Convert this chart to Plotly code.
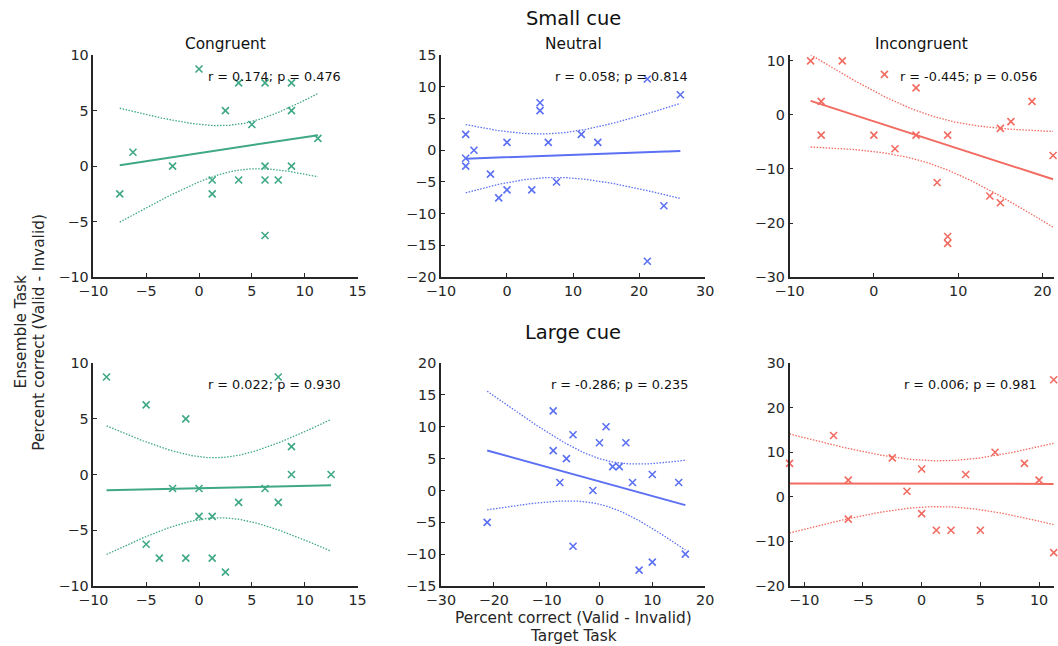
import numpy as np
import plotly.graph_objects as go

W, H = 1066, 654
# the page shows the figure with an 8px body margin, rescaled and padded;
# these map target-picture pixels to figure pixels (measured empirically)
S, PADX, OFF = 646 / 662, 5.0, 8
XFIX_REF, XFIX = 91, 1.00856

# ---------------- data (Target task x, Ensemble task y) ----------------
small_cong_x = [-7.5, -6.25, -2.5, 0, 1.25, 1.25, 2.5, 3.75, 3.75, 5, 6.25, 6.25, 6.25, 6.25, 7.5, 8.75, 8.75, 8.75, 11.25]
small_cong_y = [-2.5, 1.25, 0, 8.75, -1.25, -2.5, 5, 7.5, -1.25, 3.75, 7.5, 0, -1.25, -6.25, -1.25, 7.5, 5, 0, 2.5]

small_neut_x = [-6.25, -6.25, -6.25, -5, -2.5, -1.25, 0, 0, 3.75, 5, 5, 6.25, 7.5, 11.25, 13.75, 21.25, 21.25, 23.75, 26.25]
small_neut_y = [2.5, -1.25, -2.5, 0, -3.75, -7.5, 1.25, -6.25, -6.25, 7.5, 6.25, 1.25, -5, 2.5, 1.25, 11.25, -17.5, -8.75, 8.75]

small_inc_x = [-7.5, -6.25, -6.25, -3.75, 0, 1.25, 2.5, 5, 5, 7.5, 8.75, 8.75, 8.75, 13.75, 15, 15, 16.25, 18.75, 21.25]
small_inc_y = [10, 2.5, -3.75, 10, -3.75, 7.5, -6.25, 5, -3.75, -12.5, -3.75, -22.5, -23.75, -15, -2.5, -16.25, -1.25, 2.5, -7.5]

large_cong_x = [-8.75, -5, -5, -3.75, -2.5, -1.25, -1.25, 0, 0, 1.25, 1.25, 2.5, 3.75, 6.25, 7.5, 7.5, 8.75, 8.75, 12.5]
large_cong_y = [8.75, 6.25, -6.25, -7.5, -1.25, 5, -7.5, -1.25, -3.75, -3.75, -7.5, -8.75, -2.5, -1.25, 8.75, -2.5, 2.5, 0, 0]

large_neut_x = [-21.25, -8.75, -8.75, -7.5, -6.25, -5, -5, -1.25, 0, 1.25, 2.5, 3.75, 5, 6.25, 7.5, 10, 10, 15, 16.25]
large_neut_y = [-5, 12.5, 6.25, 1.25, 5, 8.75, -8.75, 0, 7.5, 10, 3.75, 3.75, 7.5, 1.25, -12.5, 2.5, -11.25, 1.25, -10]

large_inc_x = [-11.25, -7.5, -6.25, -6.25, -2.5, -1.25, 0, 0, 1.25, 2.5, 3.75, 5, 6.25, 8.75, 10, 11.25, 11.25]
large_inc_y = [7.5, 13.75, 3.75, -5, 8.75, 1.25, 6.25, -3.75, -7.5, -7.5, 5, -7.5, 10, 7.5, 3.75, 26.25, -12.5]

stats_text = ["r = 0.174; p = 0.476", "r = 0.058; p = 0.814", "r = -0.445; p = 0.056",
              "r = 0.022; p = 0.930", "r = -0.286; p = 0.235", "r = 0.006; p = 0.981"]
col_titles = ["Congruent", "Neutral", "Incongruent"]
row_titles = ["Small cue", "Large cue"]
x_label = ["Percent correct (Valid - Invalid)", "Target Task"]
y_label = ["Ensemble Task", "Percent correct (Valid - Invalid)"]

GREEN, BLUE, RED = "#3fa886", "#5b70f2", "#f26b60"
TXT = "#262626"
FONT = "DejaVu Sans"
T95 = {15: 2.131, 16: 2.120, 17: 2.110}

# axis ranges (third column runs to the right page edge)
panels = [
    (small_cong_x, small_cong_y, GREEN, [-10, 15], 5, [-10, 10], 5),
    (small_neut_x, small_neut_y, BLUE, [-10, 30], 10, [-20, 15], 5),
    (small_inc_x, small_inc_y, RED, [-10, 21.33], 10, [-30, 11.05], 10),
    (large_cong_x, large_cong_y, GREEN, [-10, 15], 5, [-10, 10], 5),
    (large_neut_x, large_neut_y, BLUE, [-30, 20], 10, [-15, 20], 5),
    (large_inc_x, large_inc_y, RED, [-11.25, 11.25], 5, [-20, 30], 10),
]

# axes boxes in target-picture pixels
col_px = [(91, 357), (441, 707), (792, 1058)]
row_px = [(55, 277), (363, 586)]


def px2x(px):
    pc = XFIX_REF + (px - XFIX_REF) / XFIX
    return min(1.0, ((pc - PADX) / S - OFF) / W)


def py2y(py):
    return 1 - (py / S - OFF) / H


def fs(size):
    return size / S


fig = go.Figure()
layout = dict(width=W, height=H, margin=dict(l=0, r=0, t=0, b=0),
              paper_bgcolor="white", plot_bgcolor="white", showlegend=False,
              font=dict(family=FONT, color=TXT, size=13))
annotations = []


def ann(px, py, text, size, color="#111111", angle=0, xanchor="center"):
    return dict(x=px2x(px), y=py2y(py), xref="paper", yref="paper", text=text, showarrow=False,
                xanchor=xanchor, yanchor="middle", textangle=angle,
                font=dict(family=FONT, size=fs(size), color=color))


for i, (xs, ys, color, xr, xd, yr, yd) in enumerate(panels):
    r, c = divmod(i, 3)
    k = i + 1
    xa = "x" if k == 1 else f"x{k}"
    ya = "y" if k == 1 else f"y{k}"
    x = np.array(xs, float)
    y = np.array(ys, float)
    n = len(x)
    b1, b0 = np.polyfit(x, y, 1)
    xg = np.linspace(x.min(), x.max(), 100)
    yg = b0 + b1 * xg
    resid = y - (b0 + b1 * x)
    s = np.sqrt(np.sum(resid ** 2) / (n - 2))
    sxx = np.sum((x - x.mean()) ** 2)
    se = s * np.sqrt(1.0 / n + (xg - x.mean()) ** 2 / sxx)
    t = T95.get(n - 2, 2.11)
    for band in (yg + t * se, yg - t * se):
        fig.add_trace(go.Scatter(x=xg, y=band, mode="lines", xaxis=xa, yaxis=ya,
                                 line=dict(color=color, width=1.3, dash="1.5px,1.5px"), hoverinfo="skip"))
    fig.add_trace(go.Scatter(x=xg, y=yg, mode="lines", xaxis=xa, yaxis=ya,
                             line=dict(color=color, width=2)))
    fig.add_trace(go.Scatter(x=x, y=y, mode="markers", xaxis=xa, yaxis=ya, cliponaxis=(c != 2),
                             marker=dict(symbol="x-thin", size=7, line=dict(color=color, width=1.6))))

    x0, x1 = col_px[c]
    y0, y1 = row_px[r]
    axstyle = dict(showgrid=False, zeroline=False, showline=True, linecolor=TXT, linewidth=1.5,
                   ticks="inside", ticklen=4, tickwidth=1, tickcolor=TXT,
                   tickfont=dict(family=FONT, size=fs(14), color=TXT))
    layout["xaxis" if k == 1 else f"xaxis{k}"] = dict(
        domain=[px2x(x0), px2x(x1)], range=xr, dtick=xd, tick0=0, anchor=ya, **axstyle)
    layout["yaxis" if k == 1 else f"yaxis{k}"] = dict(
        domain=[py2y(y1), py2y(y0)], range=yr, dtick=yd, tick0=0, anchor=xa, **axstyle)

    annotations.append(ann(x0 + 251, y0 + 21, stats_text[i], 12.5, xanchor="right"))
    if r == 0:
        annotations.append(ann(x0 + 133, 44, col_titles[c], 15))

for rt, py in zip(row_titles, [18, 332]):
    annotations.append(ann(574, py, rt, 19))

annotations.append(ann(574, 618, x_label[0], 15, TXT))
annotations.append(ann(574, 636, x_label[1], 15, TXT))
annotations.append(ann(18.5, 332, y_label[0], 15, TXT, angle=-90))
annotations.append(ann(36, 332, y_label[1], 15, TXT, angle=-90))

layout["annotations"] = annotations
fig.update_layout(**layout)
fig.write_html("out.html")
